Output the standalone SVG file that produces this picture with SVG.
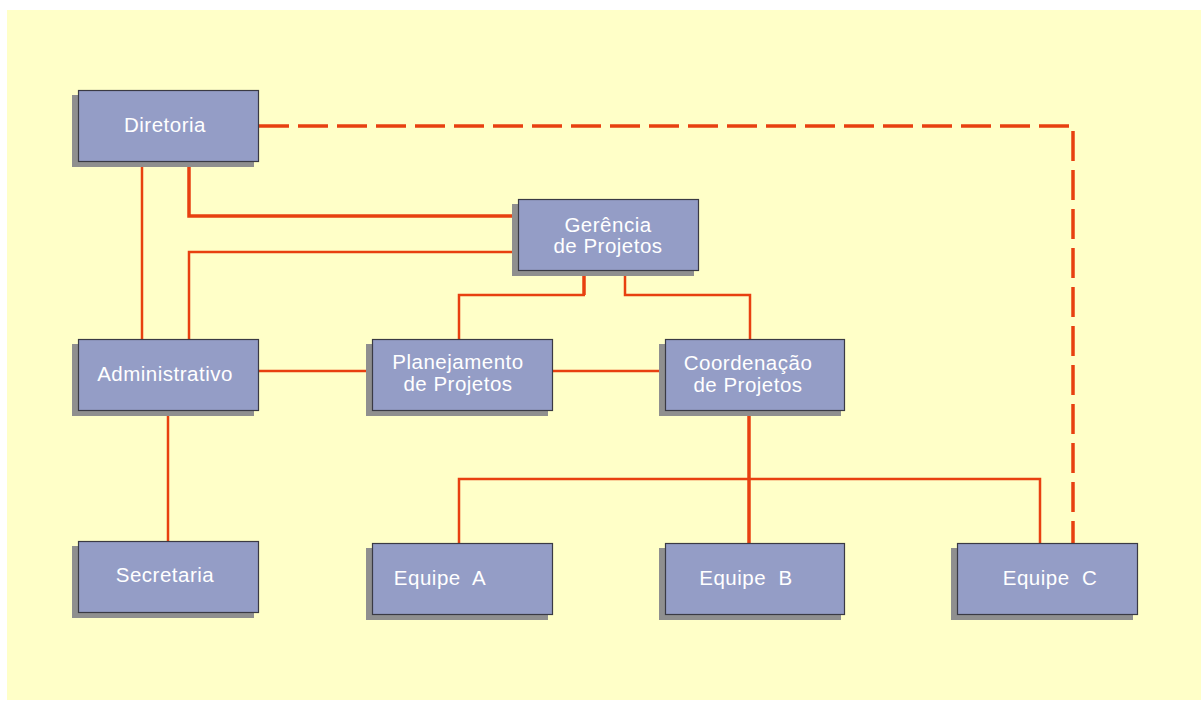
<svg xmlns="http://www.w3.org/2000/svg" width="1201" height="701" viewBox="0 0 1201 701">
<style>
.box{fill:#949DC6;stroke:#3a3a44;stroke-width:1.2}
.sh{fill:#8f8f8f}
.t{font-family:"Liberation Sans",Arial,sans-serif;font-size:20.5px;fill:#ffffff;text-anchor:middle;white-space:pre;letter-spacing:0.5px}
.c{fill:none;stroke:#E84010;stroke-width:2.5}
.ck{fill:none;stroke:#E84010;stroke-width:3.5}
.d{fill:none;stroke:#E84010;stroke-width:3.5;stroke-dasharray:30 9}
</style>
<rect x="0" y="0" width="1201" height="701" fill="#ffffff"/>
<rect x="7" y="10" width="1194" height="690" fill="#FFFFC8"/>
<g id="connectors">
<path class="c" d="M142,162 V339"/>
<path class="ck" d="M189,162 V216 H518"/>
<path class="c" d="M189,339 V252 H518"/>
<path class="ck" d="M584,271 V295"/>
<path class="c" d="M585,295 H459 V339"/>
<path class="c" d="M625,271 V295 H750 V339"/>
<path class="c" d="M259,371 H372"/>
<path class="c" d="M552,371 H665"/>
<path class="ck" d="M749,411 V543"/>
<path class="c" d="M459,543 V479 H1040 V543"/>
<path class="c" d="M168,411 V541"/>
<path class="d" d="M259,126 H1073 V543"/>
</g>
<g id="diretoria"><rect class="sh" x="72" y="95" width="182" height="72"/><rect class="box" x="78.5" y="90.5" width="180" height="71"/><text class="t" x="165" y="132">Diretoria</text></g>
<g id="gerencia"><rect class="sh" x="512" y="204" width="182" height="72"/><rect class="box" x="518.5" y="199.5" width="180" height="71"/><text class="t" x="608" y="232">Gerência</text><text class="t" x="608" y="253">de Projetos</text></g>
<g id="administrativo"><rect class="sh" x="72" y="344" width="182" height="72"/><rect class="box" x="78.5" y="339.5" width="180" height="71"/><text class="t" x="165" y="381">Administrativo</text></g>
<g id="planejamento"><rect class="sh" x="366" y="344" width="182" height="72"/><rect class="box" x="372.5" y="339.5" width="180" height="71"/><text class="t" x="458" y="369">Planejamento</text><text class="t" x="458" y="391">de Projetos</text></g>
<g id="coordenacao"><rect class="sh" x="659" y="344" width="182" height="72"/><rect class="box" x="665.5" y="339.5" width="179" height="71"/><text class="t" x="748" y="370">Coordenação</text><text class="t" x="748" y="392">de Projetos</text></g>
<g id="secretaria"><rect class="sh" x="72" y="546" width="182" height="72"/><rect class="box" x="78.5" y="541.5" width="180" height="71"/><text class="t" x="165" y="582">Secretaria</text></g>
<g id="equipe-a"><rect class="sh" x="366" y="548" width="182" height="72"/><rect class="box" x="372.5" y="543.5" width="180" height="71"/><text class="t" x="440" y="585">Equipe  A</text></g>
<g id="equipe-b"><rect class="sh" x="659" y="548" width="182" height="72"/><rect class="box" x="665.5" y="543.5" width="179" height="71"/><text class="t" x="746" y="585">Equipe  B</text></g>
<g id="equipe-c"><rect class="sh" x="951" y="548" width="182" height="72"/><rect class="box" x="957.5" y="543.5" width="180" height="71"/><text class="t" x="1050" y="585">Equipe  C</text></g>
</svg>
